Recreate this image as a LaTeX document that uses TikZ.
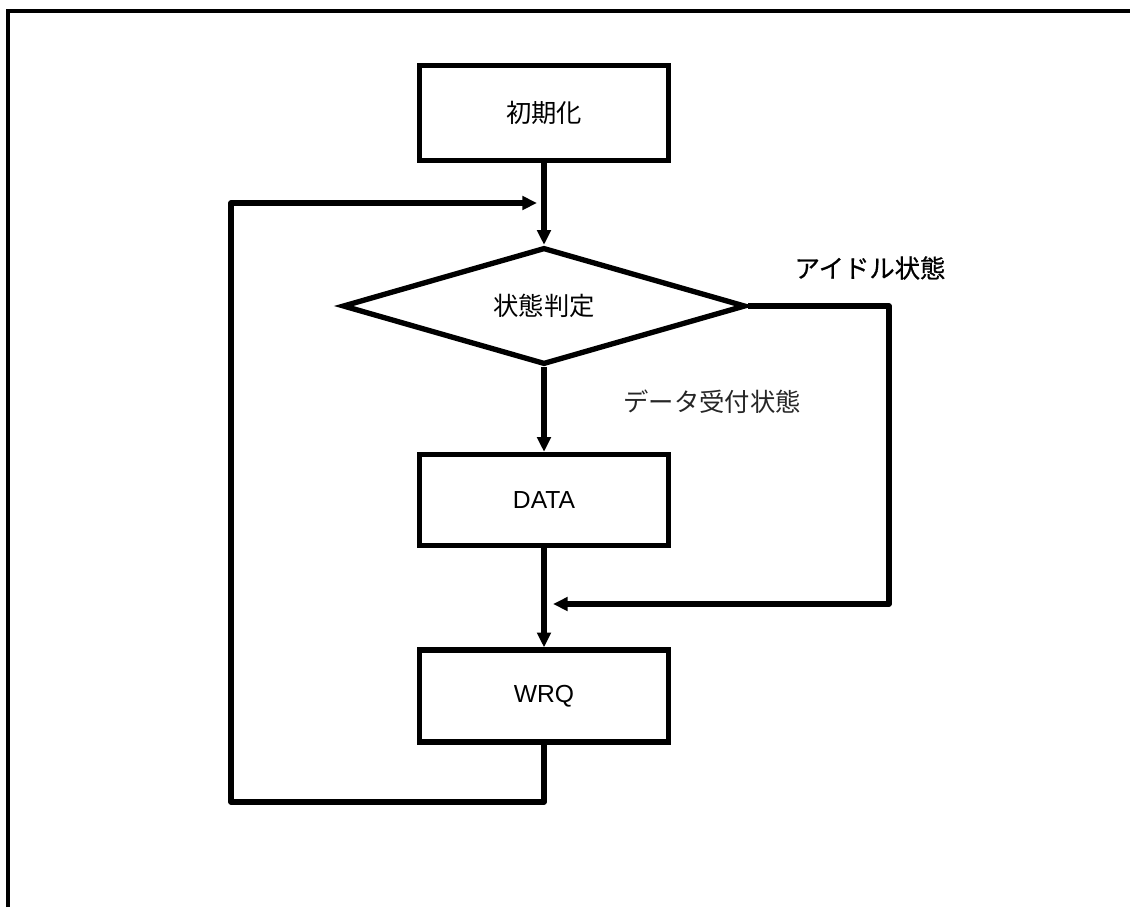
\documentclass[tikz,border=0pt]{standalone}
\usepackage{fontspec}
\setmainfont{Liberation Sans}
\newfontfamily\jp{Noto Sans CJK JP}
\newfontfamily\jpb[FakeBold=0.6]{Noto Sans CJK JP}
\usetikzlibrary{shapes.geometric,arrows.meta}
\tikzset{
  flow/.style={line width=4pt},
  arr/.style={flow,-{Triangle[length=11pt,width=10pt]}},
  procbox/.style={draw,line width=4pt,minimum width=186.75pt,minimum height=71.25pt,inner sep=0pt,font=\fontsize{18.5}{22}\selectfont},
  decide/.style={draw,line width=4pt,diamond,minimum width=302.25pt,minimum height=87.75pt,aspect=3.44,inner sep=0pt,font=\jp\fontsize{19}{22}\selectfont},
  lbl/.style={inner sep=0pt,font=\jp\fontsize{19}{22}\selectfont}
}
\begin{document}
\begin{tikzpicture}[x=0.75pt,y=-0.75pt]
\useasboundingbox (0,0) rectangle (1130,907);
\draw[line width=2.6pt] (8,907) -- (8,11) -- (1132,11);
\node[procbox,font=\jp\fontsize{19}{22}\selectfont] (init) at (544,113) {初期化};
\node[decide] (judge) at (544,306) {状態判定};
\node[procbox,minimum height=68.25pt] (data) at (544,500) {DATA};
\node[procbox,minimum height=69pt] (wrq) at (544,696) {WRQ};
\node[lbl,font=\jpb\fontsize{19}{22}\selectfont] (idle) at (870,268) {アイドル状態};
\node[lbl,font=\jp\fontsize{19}{22}\selectfont\color{black!85}] (recv) at (712,402) {データ受付状態};
\coordinate (merge1) at (544,203);
\coordinate (merge2) at (544,604);
\coordinate (loopb) at (544,802);
\coordinate (loopl) at (231,802);
\coordinate (loopt) at (231,203);
\coordinate (idler) at (889,306);
\coordinate (idleb) at (889,604);
\draw[arr] (init.south) -- (judge.north);
\draw[arr] (judge.south) -- (data.north);
\draw[arr] (data.south) -- (wrq.north);
\draw[flow,line join=round] (wrq.south) -- (loopb) -- (loopl) -- (loopt);
\draw[arr,shorten >=5.25pt,line join=round] (loopl) -- (loopt) -- (merge1);
\draw[arr,shorten >=6.75pt,line join=round] (judge.east) -- (idler) -- (idleb) -- (merge2);
\end{tikzpicture}
\end{document}
